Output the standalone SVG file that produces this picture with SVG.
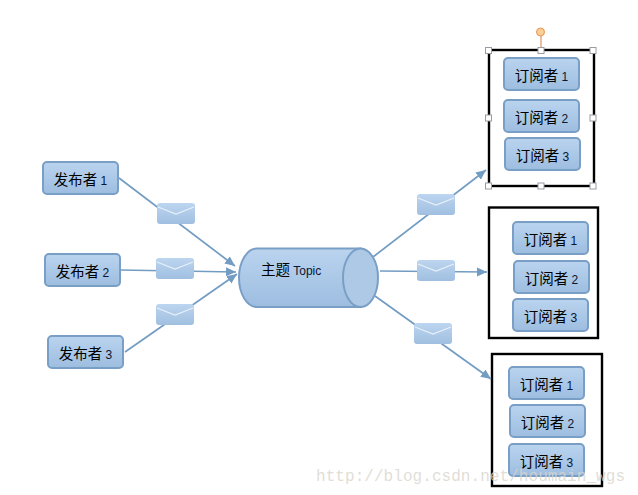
<svg xmlns="http://www.w3.org/2000/svg" width="638" height="495" viewBox="0 0 638 495">
<style>
.n{fill:url(#g);stroke:#7a9fc6;stroke-width:2}
.t{font-family:"Noto Sans CJK SC","Liberation Sans",sans-serif;font-size:14.5px;fill:#000;text-anchor:middle}
.d{font-family:"Liberation Sans",sans-serif;font-size:12px;fill:#0a1530}
.c{stroke:#739cc3;stroke-width:1.7;fill:none}
.a{marker-end:url(#ah)}
.env{fill:url(#e)}
.fl{fill:none;stroke:#e8f0f8;stroke-width:1.2}
.b{fill:#fff;stroke:#000;stroke-width:2.4}
.h{fill:#fff;stroke:#9a9aa5;stroke-width:1}
.wm{font-family:"Liberation Mono","DejaVu Sans Mono",monospace;font-size:16px;fill:#d8d5cc;fill-opacity:.8}
</style>
<defs>
<linearGradient id="g" x1="0" y1="0" x2="0" y2="1"><stop offset="0" stop-color="#bad4ef"/><stop offset="1" stop-color="#9dbde0"/></linearGradient>
<linearGradient id="e" x1="0" y1="0" x2="0" y2="1"><stop offset="0" stop-color="#bcd5f0"/><stop offset="1" stop-color="#a0bfe0"/></linearGradient>
<marker id="ah" markerUnits="userSpaceOnUse" markerWidth="11" markerHeight="10" refX="10" refY="4.5" orient="auto"><path d="M0 0L10 4.5L0 9Z" fill="#739cc3"/></marker>
<g id="env"><rect class="env" width="38" height="21" rx="3"/><path class="fl" d="M1 4L19 11L37 4"/></g>
</defs>
<g id="frames">
<rect class="b" x="489" y="50" width="105" height="136"/>
<rect class="b" x="489" y="207.500" width="109" height="130.500"/>
<rect class="b" x="492" y="354" width="110" height="132"/>
</g>
<g id="connectors">
<path class="c a" d="M119 178L235 266"/>
<path class="c a" d="M120 270L236 272"/>
<path class="c a" d="M125 352L237 274"/>
<path class="c a" d="M373 257L486 170"/>
<path class="c a" d="M380 271L487 272"/>
<path class="c a" d="M375 296L491 379"/>
</g>
<g id="selection">
<path d="M541 36V50" stroke="#e0905f" stroke-width="1.2"/>
<circle cx="540.500" cy="32" r="4" fill="#fbcf93" stroke="#e8935a" stroke-width="1"/>
<rect class="h" x="485.500" y="47.500" width="6" height="6"/><rect class="h" x="538" y="47.500" width="6" height="6"/><rect class="h" x="590" y="47.500" width="6" height="6"/>
<rect class="h" x="485.500" y="115" width="6" height="6"/><rect class="h" x="590" y="115" width="6" height="6"/>
<rect class="h" x="485.500" y="183" width="6" height="6"/><rect class="h" x="538" y="183" width="6" height="6"/><rect class="h" x="590" y="183" width="6" height="6"/>
</g>
<g id="msg1"><use href="#env" x="157" y="203"/></g>
<g id="msg2"><use href="#env" x="156" y="258"/></g>
<g id="msg3"><use href="#env" x="156" y="304"/></g>
<g id="msg4"><use href="#env" x="417" y="194"/></g>
<g id="msg5"><use href="#env" x="417" y="260"/></g>
<g id="msg6"><use href="#env" x="414" y="323"/></g>
<g id="pub1"><rect class="n" x="43" y="162" width="75" height="32" rx="4"/><text class="t" x="80.500" y="185">发布者 <tspan class="d">1</tspan></text></g>
<g id="pub2"><rect class="n" x="45" y="254" width="75" height="32" rx="4"/><text class="t" x="82.500" y="277">发布者 <tspan class="d">2</tspan></text></g>
<g id="pub3"><rect class="n" x="48" y="336" width="75" height="32" rx="4"/><text class="t" x="85.500" y="359">发布者 <tspan class="d">3</tspan></text></g>
<g id="topic">
<path class="n" d="M360.500 248.500H257A18 29.250 0 0 0 257 307H360.500Z"/>
<ellipse cx="360.500" cy="277.750" rx="17.500" ry="29.250" fill="#aec9e6" stroke="#7a9fc6" stroke-width="2"/>
<text x="261" y="275" style="font-family:'Noto Sans CJK SC','Liberation Sans',sans-serif;font-size:14.500px">主题 <tspan class="d">Topic</tspan></text>
</g>
<g id="sub1"><rect class="n" x="504" y="58" width="75" height="32" rx="4"/><text class="t" x="541.500" y="81">订阅者 <tspan class="d">1</tspan></text></g>
<g id="sub2"><rect class="n" x="504" y="100" width="75" height="32" rx="4"/><text class="t" x="541.500" y="123">订阅者 <tspan class="d">2</tspan></text></g>
<g id="sub3"><rect class="n" x="505" y="138" width="75" height="32" rx="4"/><text class="t" x="542.500" y="161">订阅者 <tspan class="d">3</tspan></text></g>
<g id="sub4"><rect class="n" x="513" y="222" width="75" height="32" rx="4"/><text class="t" x="550.500" y="245">订阅者 <tspan class="d">1</tspan></text></g>
<g id="sub5"><rect class="n" x="514" y="261" width="75" height="32" rx="4"/><text class="t" x="551.500" y="284">订阅者 <tspan class="d">2</tspan></text></g>
<g id="sub6"><rect class="n" x="513" y="299" width="75" height="32" rx="4"/><text class="t" x="550.500" y="322">订阅者 <tspan class="d">3</tspan></text></g>
<g id="sub7"><rect class="n" x="509" y="367" width="75" height="32" rx="4"/><text class="t" x="546.500" y="390">订阅者 <tspan class="d">1</tspan></text></g>
<g id="sub8"><rect class="n" x="510" y="405" width="75" height="32" rx="4"/><text class="t" x="547.500" y="428">订阅者 <tspan class="d">2</tspan></text></g>
<g id="sub9"><rect class="n" x="509" y="444" width="75" height="32" rx="4"/><text class="t" x="546.500" y="467">订阅者 <tspan class="d">3</tspan></text></g>
<text class="wm" x="316" y="481" textLength="309">http://blog.csdn.net/houmain_wgs</text>
</svg>
